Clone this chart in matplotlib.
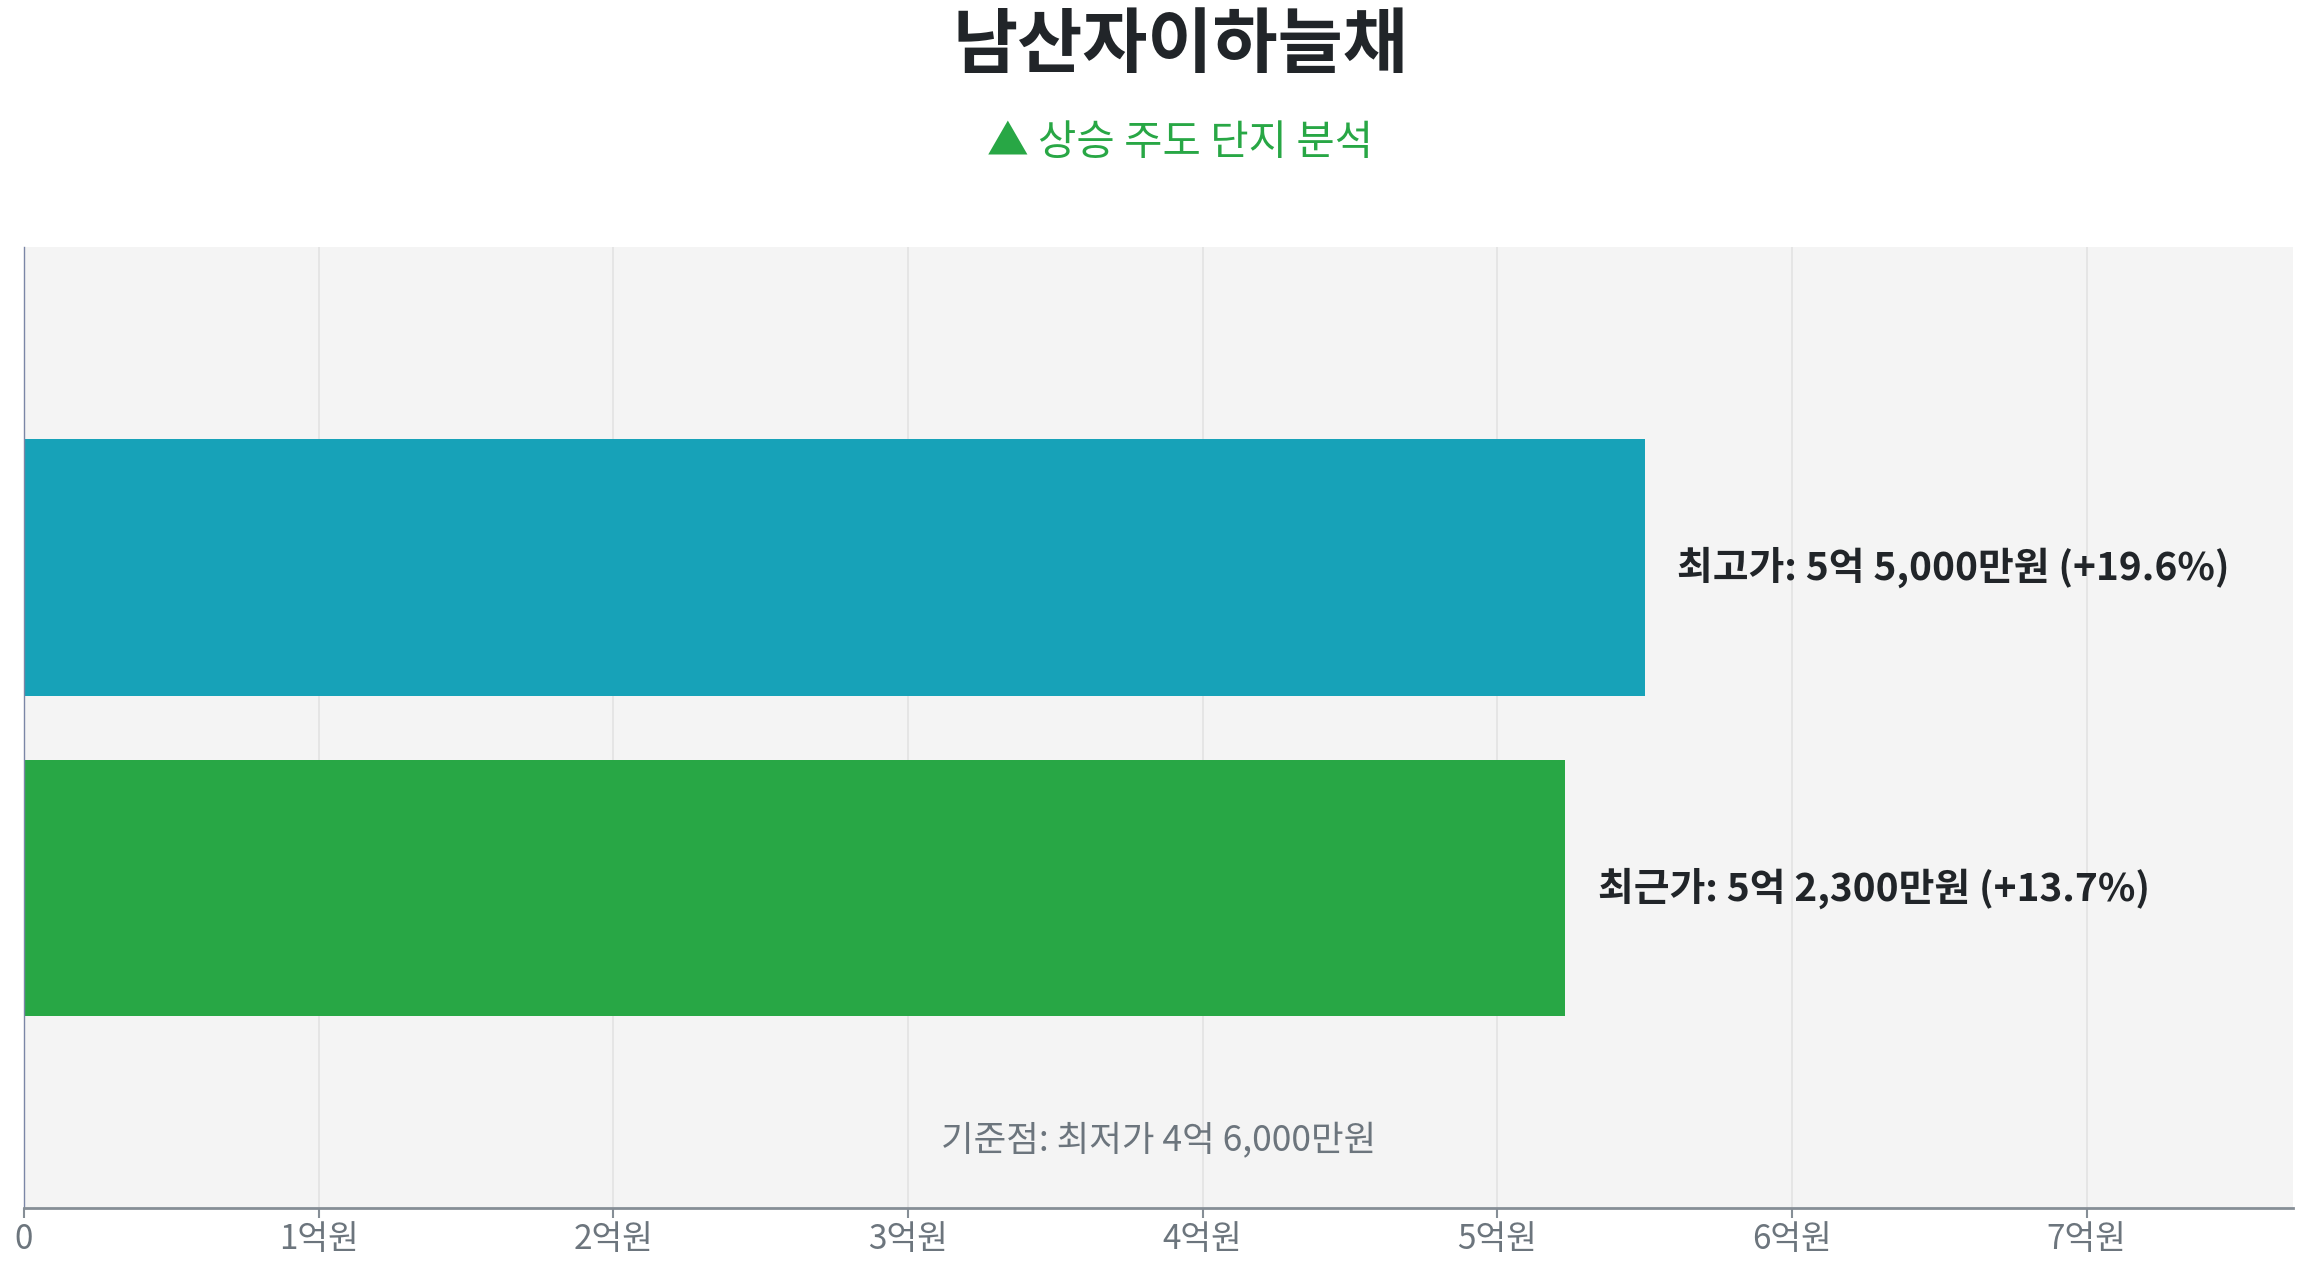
import numpy as np
import matplotlib.pyplot as plt

plt.rcParams['font.family'] = ['Noto Sans CJK KR', 'DejaVu Sans']

# data (prices in 억원)
base_price = 4.6
labels = ['최고가', '최근가']
prices = [5.5, 5.23]
price_text = ['5억 5,000만원', '5억 2,300만원']
bar_colors = ['#17a2b8', '#28a745']
tick_vals = [0, 1, 2, 3, 4, 5, 6, 7]
tick_labels = ['0', '1억원', '2억원', '3억원', '4억원', '5억원', '6억원', '7억원']

fig = plt.figure(figsize=(23.07, 12.68), dpi=100)
ax = fig.add_axes([0.0104, 0.047, 0.9835, 0.758])
ax.set_facecolor('#f4f4f4')

y = np.arange(len(prices))
ax.barh(y, prices, height=0.8, color=bar_colors, zorder=2)

for i in range(len(prices)):
    pct = (prices[i] / base_price - 1) * 100
    ax.text(prices[i] + 0.11, y[i], f'{labels[i]}: {price_text[i]} (+{pct:.1f}%)',
            va='center', ha='left', fontsize=28, fontweight='bold', color='#212529')

ax.set_xlim(0, max(prices) * 1.4)
ax.set_ylim(2, -1)
ax.set_yticks([])
ax.set_xticks(tick_vals)
ax.set_xticklabels(tick_labels)
ax.tick_params(axis='x', colors='#868e96', labelcolor='#6c757d', labelsize=24,
               length=7, width=1.5, pad=3)
ax.grid(axis='x', color='#e3e3e3', linewidth=1.2, zorder=0)

for s in ['top', 'right']:
    ax.spines[s].set_visible(False)
ax.spines['left'].set_color('#7b86a6')
ax.spines['left'].set_linewidth(1)
ax.spines['bottom'].set_color('#868e96')
ax.spines['bottom'].set_linewidth(2)

ax.text(0.5, 0.07, f'기준점: 최저가 4억 6,000만원', transform=ax.transAxes,
        ha='center', va='center', fontsize=25.5, color='#6c757d')

fig.text(0.5115, 0.964, '남산자이하늘채', ha='center', va='center',
         fontsize=51, fontweight='bold', color='#212529')
fig.text(0.5115, 0.887, '▲ 상승 주도 단지 분석', ha='center', va='center',
         fontsize=30, color='#28a745')

fig.savefig('out.png', dpi=100)
